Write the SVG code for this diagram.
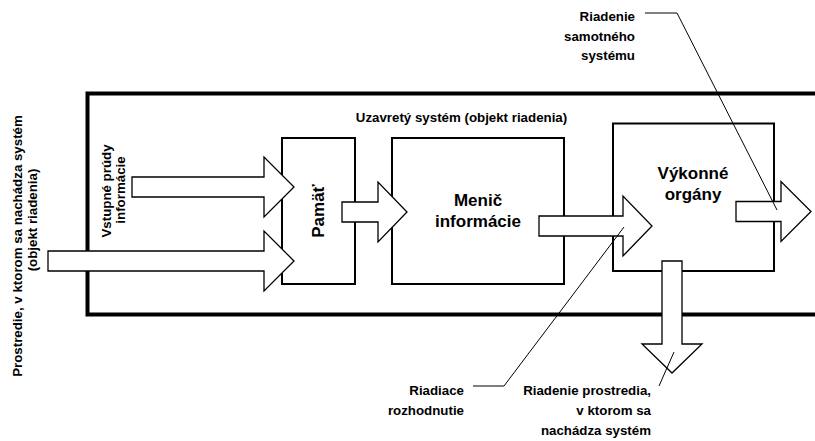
<svg xmlns="http://www.w3.org/2000/svg" width="815" height="441" viewBox="0 0 815 441">
<style>
.box{fill:#fff;stroke:#000;stroke-width:2}
.outer{fill:none;stroke:#000;stroke-width:4}
.arrow{fill:#fff;stroke:#000;stroke-width:1.3;stroke-linejoin:miter}
.call{fill:none;stroke:#000;stroke-width:1}
text{font-family:"Liberation Sans",Arial,sans-serif;font-weight:bold;fill:#000}
.s{font-size:13.3px}
.b{font-size:17px}
.m{text-anchor:middle}
.e{text-anchor:end}
</style>
<rect width="815" height="441" fill="#fff"/>
<g id="outer-system">
<rect class="outer" x="87.5" y="93.5" width="800" height="221"/>
<text class="s m" x="461.5" y="121.5">Uzavretý systém (objekt riadenia)</text>
</g>
<g id="pamat">
<rect class="box" x="282" y="138" width="73" height="146"/>
<text class="b m" transform="translate(323.5,211) rotate(-90)">Pamäť</text>
</g>
<g id="menic">
<rect class="box" x="392" y="138" width="172" height="146"/>
<text class="b m" x="478" y="206">Menič</text>
<text class="b m" x="478" y="227">informácie</text>
</g>
<g id="vykonne">
<rect class="box" x="613" y="123.5" width="161" height="147.5"/>
<text class="b m" x="693" y="179">Výkonné</text>
<text class="b m" x="693" y="200">orgány</text>
</g>
<g id="connectors">
<path class="arrow" d="M132,177H264V157L294,187L264,217V197H132Z"/>
<path class="arrow" d="M48,251H264V231L294,261L264,291V271H48Z"/>
<path class="arrow" d="M342,202H378V182L407,212L378,242V222H342Z"/>
<path class="arrow" d="M539,216H623V196L652,226L623,256V236H539Z"/>
<path class="arrow" d="M736,201.5H781V181.5L811,211.5L781,241.5V221.5H736Z"/>
<path class="arrow" d="M662,261V344H642L672,373L702,344H682V261Z"/>
<polyline class="call" points="645,13 677,13 777,210"/>
<polyline class="call" points="473,386 504,386 624,227"/>
<line class="call" x1="659" y1="386" x2="674" y2="352"/>
</g>
<g id="label-vstupne">
<text class="s m" transform="translate(110.5,191) rotate(-90)">Vstupné prúdy</text>
<text class="s m" transform="translate(124.5,190) rotate(-90)">informácie</text>
</g>
<g id="label-prostredie">
<text class="s m" transform="translate(21.5,246) rotate(-90)">Prostredie, v ktorom sa nachádza systém</text>
<text class="s m" transform="translate(37,220) rotate(-90)">(objekt riadenia)</text>
</g>
<g id="label-riadenie-samotneho">
<text class="s e" x="635" y="21">Riadenie</text>
<text class="s e" x="635" y="41">samotného</text>
<text class="s e" x="635" y="60">systému</text>
</g>
<g id="label-riadiace">
<text class="s e" x="464" y="395">Riadiace</text>
<text class="s e" x="464" y="415">rozhodnutie</text>
</g>
<g id="label-riadenie-prostredia">
<text class="s e" x="651" y="395">Riadenie prostredia,</text>
<text class="s e" x="651" y="415">v ktorom sa</text>
<text class="s e" x="651" y="435">nachádza systém</text>
</g>
</svg>
